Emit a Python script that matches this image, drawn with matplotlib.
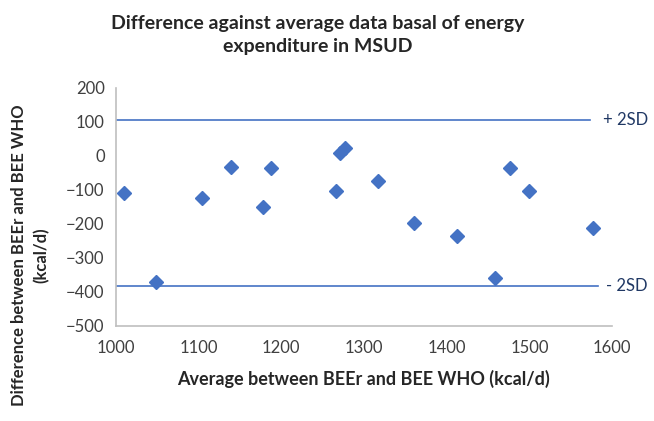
import matplotlib as mpl
mpl.use('Agg')
import matplotlib.pyplot as plt

plt.rcParams['font.family'] = ['Lato', 'DejaVu Sans']

# Bland-Altman style data: mean of the two estimates vs. their difference
mean_bee = [1010, 1049, 1104, 1139, 1178, 1188, 1266, 1271, 1277,
            1317, 1360, 1412, 1458, 1477, 1500, 1577]
diff_bee = [-110, -370, -124, -33, -151, -34, -104, 10, 24,
            -73, -197, -236, -358, -34, -104, -212]

upper_sd = 107
lower_sd = -382
sd_x_upper = [1000, 1573]
sd_x_lower = [1000, 1583]

blue = '#4472C4'
grey_text = '#404040'

fig = plt.figure(figsize=(6.54, 4.21), dpi=100)
ax = fig.add_axes([0.177, 0.226, 0.759, 0.565])

ax.plot(sd_x_upper, [upper_sd, upper_sd], color=blue, lw=1.2)
ax.plot(sd_x_lower, [lower_sd, lower_sd], color=blue, lw=1.2)
ax.plot(mean_bee, diff_bee, 'D', color=blue, ms=7.5, mec=blue)

ax.text(sd_x_upper[1] + 16, upper_sd, '+ 2SD', color='#203864',
        fontsize=12, va='center', ha='left', clip_on=False)
ax.text(sd_x_lower[1] + 10, lower_sd, '- 2SD', color='#203864',
        fontsize=12, va='center', ha='left', clip_on=False)

ax.set_xlim(1000, 1600)
ax.set_ylim(-500, 200)
ax.set_xticks(range(1000, 1601, 100))
ax.set_yticks(range(-500, 201, 100))

for side in ['top', 'right']:
    ax.spines[side].set_visible(False)
for side in ['left', 'bottom']:
    ax.spines[side].set_color('#BFBFBF')
    ax.spines[side].set_linewidth(1.2)
ax.tick_params(length=0, labelsize=12, colors=grey_text)
ax.tick_params(axis='x', pad=10)
ax.tick_params(axis='y', pad=8)

ax.set_xlabel('Average between BEEr and BEE WHO (kcal/d)', fontsize=13,
              fontweight='bold', color='#262626', labelpad=10)

# axis title sits lower than the plot centre
fig.text(30 / 654, 1 - 255 / 421, 'Difference between BEEr and BEE WHO\n(kcal/d)',
         rotation=90, ha='center', va='center', fontsize=12,
         fontweight='bold', color='#262626', linespacing=1.5)

fig.text(318 / 654, 1 - 35 / 421,
         'Difference against average data basal of energy\n'
         'expenditure in MSUD', ha='center', va='center', fontsize=14,
         fontweight='bold', color='#262626', linespacing=1.4)

plt.savefig('out.png', dpi=100)
